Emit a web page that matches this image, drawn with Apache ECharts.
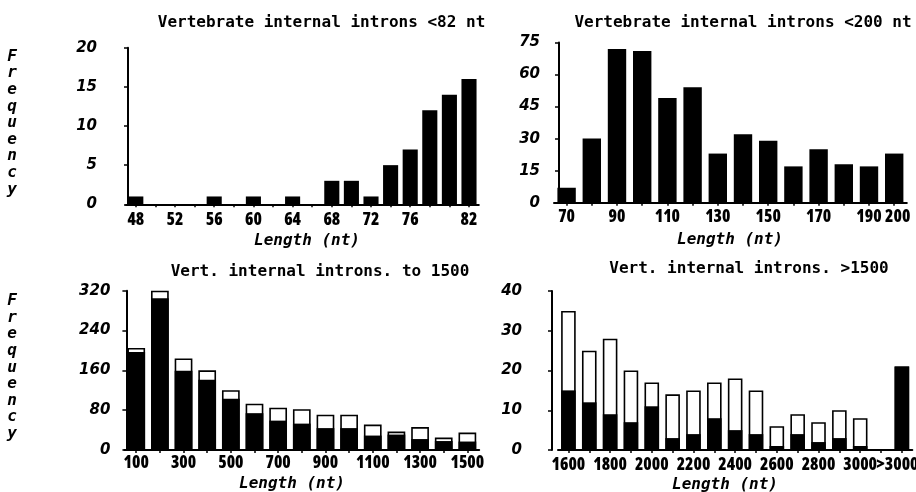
<!DOCTYPE html>
<html>
<head>
<meta charset="utf-8">
<script src="https://cdn.jsdelivr.net/npm/echarts@6/dist/echarts.min.js"></script>
<style>
  html, body { margin: 0; padding: 0; background: #fff; }
  #chart { width: 916px; height: 492px; }
</style>
</head>
<body>
<div id="chart"></div>
<script>
// Introns shorter than 82 nt, 2-nt bins
const shortCats = ['48','50','52','54','56','58','60','62','64','66','68','70','72','74','76','78','80','82'];
const shortCounts = [1,0,0,0,1,0,1,0,1,0,3,3,1,5,7,12,14,16];
const shortTicks = ['48','52','56','60','64','68','72','76','82'];

// Introns shorter than 200 nt, 10-nt bins
const midCats = ['70','80','90','100','110','120','130','140','150','160','170','180','190','200'];
const midCounts = [7,30,72,71,49,54,23,32,29,17,25,18,17,23];
const midTicks = ['70','90','110','130','150','170','190','200'];

// Introns up to 1500 nt, 100-nt bins: whole bar and its filled part
const longCats = ['100','200','300','400','500','600','700','800','900','1000','1100','1200','1300','1400','1500'];
const longTotal = [205,320,184,160,120,93,85,82,71,71,51,37,46,25,35];
const longFilled = [197,305,159,141,103,74,59,53,44,44,29,31,22,18,17];
const longTicks = ['100','300','500','700','900','1100','1300','1500'];

// Introns over 1500 nt, 100-nt bins plus an open-ended last bin
const xlCats = ['1600','1700','1800','1900','2000','2100','2200','2300','2400','2500','2600','2700','2800','2900','3000','','>3000'];
const xlTotal = [35,25,28,20,17,14,15,17,18,15,6,9,7,10,8,null,21];
const xlFilled = [15,12,9,7,11,3,4,8,5,4,1,4,2,3,1,null,21];
const xlTicks = ['1600','1800','2000','2200','2400','2600','2800','3000','>3000'];

const INK = '#000';
const TITLE_FONT = 'bold 16px "DejaVu Sans Mono", monospace';
const NAME_FONT = 'italic bold 16px "DejaVu Sans Mono", monospace';
// narrow, heavy digits under the category axes
const XLABEL_WEIGHT = '800 condensed';
const XLABEL_FAMILY = '"Open Sans", "DejaVu Sans", sans-serif';

const panels = [
  { cats: shortCats, ticks: shortTicks, max: 20, step: 5,
    grid: { left: 126, top: 47.7, width: 352.8, height: 156.6 }, yOffset: -2, yMargin: 31, xMargin: 7 },
  { cats: midCats, ticks: midTicks, max: 75, step: 15,
    grid: { left: 554, top: 42.5, width: 352.8, height: 160.2 }, yOffset: -5, yMargin: 19, xMargin: 6 },
  { cats: longCats, ticks: longTicks, max: 320, step: 80,
    grid: { left: 124.4, top: 290.7, width: 354.8, height: 159.3 }, yOffset: -2, yMargin: 16, xMargin: 5 },
  { cats: xlCats, ticks: xlTicks, max: 40, step: 10,
    grid: { left: 558, top: 291, width: 354.3, height: 159 }, yOffset: 6, yMargin: 30, xMargin: 7 }
];

// end labels that sit tight against a neighbour are eased sideways
const edgeLabels = {
  '200': { padding: [0, 0, 0, 7] },
  '>3000': { padding: [0, 9, 0, 0] }
};

const grids = panels.map(p => Object.assign({ outerBoundsMode: 'none', containLabel: false }, p.grid));

const xAxes = panels.map((p, i) => ({
  type: 'category',
  gridIndex: i,
  data: p.cats,
  boundaryGap: true,
  axisLine: { show: true, lineStyle: { color: INK, width: 2 } },
  axisTick: { show: true, alignWithLabel: true, interval: 0, length: 3, lineStyle: { color: INK, width: 1.5 } },
  axisLabel: {
    interval: 0,
    margin: p.xMargin,
    color: INK,
    fontFamily: XLABEL_FAMILY,
    fontWeight: XLABEL_WEIGHT,
    fontSize: 17,
    formatter: v => {
      if (p.ticks.indexOf(v) < 0) return '';
      if (i >= 1 && edgeLabels[v] && v === p.cats[p.cats.length - 1]) return '{edge' + (i === 1 ? 'A' : 'B') + '|' + v + '}';
      return v;
    },
    rich: {
      edgeA: Object.assign({ color: INK, fontFamily: XLABEL_FAMILY, fontWeight: XLABEL_WEIGHT, fontSize: 17 }, edgeLabels['200']),
      edgeB: Object.assign({ color: INK, fontFamily: XLABEL_FAMILY, fontWeight: XLABEL_WEIGHT, fontSize: 17 }, edgeLabels['>3000'])
    }
  },
  splitLine: { show: false }
}));

const yAxes = panels.map((p, i) => ({
  type: 'value',
  gridIndex: i,
  min: 0,
  max: p.max,
  interval: p.step,
  offset: p.yOffset,
  axisLine: { show: true, lineStyle: { color: INK, width: 2 } },
  axisTick: { show: true, length: 4, lineStyle: { color: INK, width: 1.5 } },
  axisLabel: {
    margin: p.yMargin,
    color: INK,
    fontFamily: '"DejaVu Sans", sans-serif',
    fontStyle: 'italic',
    fontWeight: 'bold',
    fontSize: 15
  },
  splitLine: { show: false }
}));

const solid = { color: INK };
const outlined = { color: '#fff', borderColor: INK, borderWidth: 1.6 };

const series = [
  { type: 'bar', xAxisIndex: 0, yAxisIndex: 0, data: shortCounts, barWidth: '77%', itemStyle: solid, silent: true },
  { type: 'bar', xAxisIndex: 1, yAxisIndex: 1, data: midCounts, barWidth: '73%', itemStyle: solid, silent: true },
  { type: 'bar', xAxisIndex: 2, yAxisIndex: 2, data: longTotal, barWidth: '75%', barGap: '-100%', itemStyle: outlined, silent: true },
  { type: 'bar', xAxisIndex: 2, yAxisIndex: 2, data: longFilled, barWidth: '75%', barGap: '-100%', itemStyle: solid, silent: true },
  { type: 'bar', xAxisIndex: 3, yAxisIndex: 3, data: xlTotal, barWidth: '70%', barGap: '-100%', itemStyle: outlined, silent: true },
  { type: 'bar', xAxisIndex: 3, yAxisIndex: 3, data: xlFilled, barWidth: '70%', barGap: '-100%', itemStyle: solid, silent: true }
];

function label(text, x, y, font, extra) {
  return {
    type: 'text',
    x: x, y: y,
    silent: true,
    style: Object.assign({ text: text, font: font, fill: INK, align: 'center', verticalAlign: 'middle' }, extra || {})
  };
}

const verticalWord = 'Frequency'.split('').join('\n');

const graphics = [
  label('Vertebrate internal introns <82 nt', 321.5, 23, TITLE_FONT),
  label('Vertebrate internal introns <200 nt', 743, 23, TITLE_FONT),
  label('Vert. internal introns. to 1500', 320, 271.5, TITLE_FONT),
  label('Vert. internal introns. >1500', 749, 268.5, TITLE_FONT),
  label('Length (nt)', 307, 240.5, NAME_FONT),
  label('Length (nt)', 730, 240, NAME_FONT),
  label('Length (nt)', 292, 484, NAME_FONT),
  label('Length (nt)', 725, 485, NAME_FONT),
  label(verticalWord, 12, 123, NAME_FONT, { lineHeight: 16.6 }),
  label(verticalWord, 12, 367.5, NAME_FONT, { lineHeight: 16.6 })
];

const chart = echarts.init(document.getElementById('chart'), null, { renderer: 'canvas' });
chart.setOption({
  backgroundColor: '#fff',
  animation: false,
  grid: grids,
  xAxis: xAxes,
  yAxis: yAxes,
  series: series,
  graphic: graphics
});
</script>
</body>
</html>
